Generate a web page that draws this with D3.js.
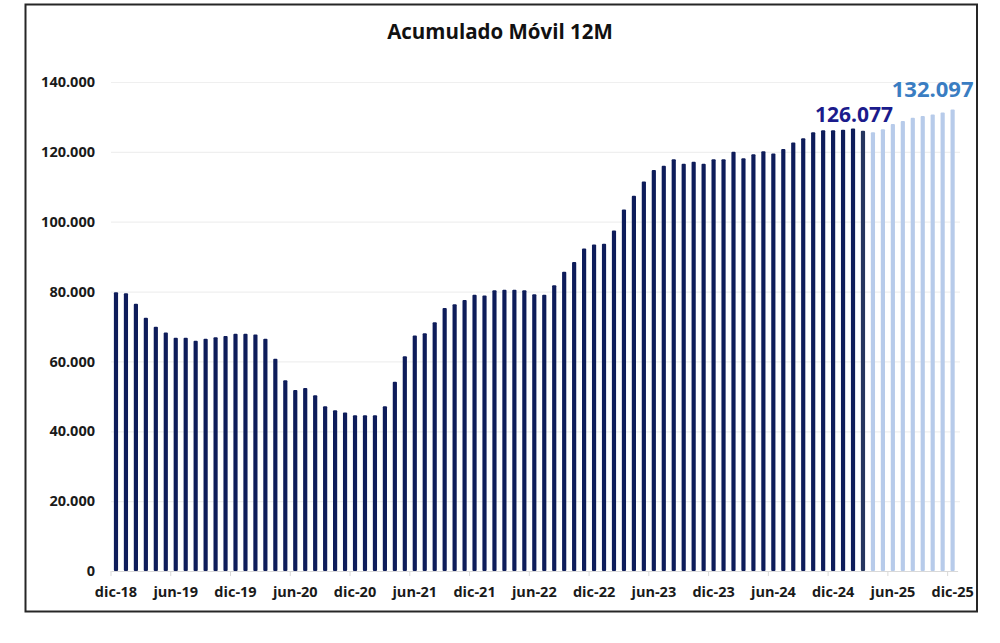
<!DOCTYPE html>
<html>
<head>
<meta charset="utf-8">
<script src="https://cdn.jsdelivr.net/npm/d3@7"></script>
<style>
  body { margin: 0; background: #fff; }
  svg { display: block; font-family: "Open Sans", sans-serif; }
</style>
</head>
<body>
<div class="chart"></div>
<script>
// meses dic-18 .. dic-25
var categorias = [
  'dic-18',
  'ene-19','feb-19','mar-19','abr-19','may-19','jun-19','jul-19','ago-19','sep-19','oct-19','nov-19','dic-19',
  'ene-20','feb-20','mar-20','abr-20','may-20','jun-20','jul-20','ago-20','sep-20','oct-20','nov-20','dic-20',
  'ene-21','feb-21','mar-21','abr-21','may-21','jun-21','jul-21','ago-21','sep-21','oct-21','nov-21','dic-21',
  'ene-22','feb-22','mar-22','abr-22','may-22','jun-22','jul-22','ago-22','sep-22','oct-22','nov-22','dic-22',
  'ene-23','feb-23','mar-23','abr-23','may-23','jun-23','jul-23','ago-23','sep-23','oct-23','nov-23','dic-23',
  'ene-24','feb-24','mar-24','abr-24','may-24','jun-24','jul-24','ago-24','sep-24','oct-24','nov-24','dic-24',
  'ene-25','feb-25','mar-25','abr-25','may-25','jun-25','jul-25','ago-25','sep-25','oct-25','nov-25','dic-25'
];

// real, dic-18 .. mar-25
var reales = [
  79800, 79500, 76500, 72500, 69900, 68300, 66800, 66800, 65900, 66500, 66900, 67300,
  67900, 67900, 67700, 66500, 60800, 54600, 51800, 52400, 50300, 47200, 46000, 45400,
  44600, 44600, 44600, 47200, 54200, 61500, 67400, 68100, 71200, 75300, 76400, 77600,
  79100, 78900, 80400, 80500, 80500, 80400, 79200, 79100, 81800, 85700, 88500, 92300,
  93500, 93700, 97500, 103500, 107400, 111500, 114800, 116000, 117900, 116600, 117200, 116600,
  117900, 117900, 120000, 118200, 119300, 120200, 119500, 120800, 122700, 123900, 125600, 126200,
  126200, 126300, 126700, 126077
];

// proyeccion, abr-25 .. dic-25
var proyeccion = [125600, 126500, 128000, 128800, 129800, 130300, 130700, 131300, 132097];

var yTicks = [0, 20000, 40000, 60000, 80000, 100000, 120000, 140000];
var xTickLabels = ['dic-18','jun-19','dic-19','jun-20','dic-20','jun-21','dic-21','jun-22',
  'dic-22','jun-23','dic-23','jun-24','dic-24','jun-25','dic-25'];

var titulo = 'Acumulado Móvil 12M';

var width = 1000, height = 643;

var datos = categorias.map(function (c, i) {
  var real = i < reales.length;
  return { mes: c, valor: real ? reales[i] : proyeccion[i - reales.length], real: real };
});

var es = d3.formatLocale({ decimal: ',', thousands: '.', grouping: [3], currency: ['', ''] });
var fmt = es.format(',');

var svg = d3.select('.chart')
  .append('svg')
    .attr('width', width)
    .attr('height', height);

// marco
svg.append('rect')
  .attr('x', 25.5)
  .attr('y', 4.5)
  .attr('width', 951.5)
  .attr('height', 607)
  .style('fill', '#fff')
  .style('stroke', '#262626')
  .style('stroke-width', 2);

svg.append('text')
  .attr('x', 500)
  .attr('y', 38.5)
  .attr('text-anchor', 'middle')
  .style('font-size', '20.5px')
  .style('font-weight', 700)
  .style('fill', '#111')
  .text(titulo);

var x = d3.scaleBand()
  .domain(categorias)
  .range([111, 957.6])
  .paddingInner(0.58)
  .paddingOuter(0.29);

var y = d3.scaleLinear()
  .domain([0, 140000])
  .range([571, 82]);

// lineas de grilla
svg.append('g')
  .selectAll('line')
  .data(yTicks.slice(1))
  .enter().append('line')
    .attr('x1', 111)
    .attr('x2', 960)
    .attr('y1', function (d) { return y(d) + 0.5; })
    .attr('y2', function (d) { return y(d) + 0.5; })
    .style('stroke', '#efefef')
    .style('stroke-width', 1.2);

var yAxis = d3.axisLeft(y)
  .tickValues(yTicks)
  .tickSize(0)
  .tickPadding(16)
  .tickFormat(fmt);

svg.append('g')
  .attr('transform', 'translate(111, 0)')
  .call(yAxis)
  .call(function (g) { g.select('.domain').remove(); })
  .selectAll('text')
    .style('font-family', '"Open Sans", sans-serif')
    .style('font-size', '14.5px')
    .style('font-weight', 700)
    .style('fill', '#1a1a1a');

// barras
svg.append('g')
  .selectAll('rect')
  .data(datos)
  .enter().append('rect')
    .attr('x', function (d) { return x(d.mes); })
    .attr('y', function (d) { return y(d.valor); })
    .attr('width', x.bandwidth())
    .attr('height', function (d) { return y(0) - y(d.valor); })
    .attr('rx', 1)
    .style('fill', function (d, i) {
      if (!d.real) return '#b7cbea';
      return i === reales.length - 1 ? '#25355f' : '#0e1c5a';
    });

// eje x
var step = x.step();
var xAxis = d3.axisBottom(x)
  .tickValues(xTickLabels)
  .tickSize(0)
  .tickPadding(16);

var gx = svg.append('g')
  .attr('transform', 'translate(0, 571)')
  .call(xAxis);
gx.select('.domain')
  .style('stroke', '#d9d9d9');
gx.selectAll('text')
  .style('font-family', '"Open Sans", sans-serif')
  .style('font-size', '14.5px')
  .style('font-weight', 700)
  .style('fill', '#1a1a1a');

gx.append('g')
  .selectAll('line')
  .data(xTickLabels)
  .enter().append('line')
    .attr('x1', function (d) { return x(d) - step * 0.29; })
    .attr('x2', function (d) { return x(d) - step * 0.29; })
    .attr('y1', 0)
    .attr('y2', 5)
    .style('stroke', '#d9d9d9');

// etiquetas de valor
var ultimoReal = datos[reales.length - 1];
var ultimo = datos[datos.length - 1];

svg.append('text')
  .attr('x', x(ultimoReal.mes) + x.bandwidth() / 2 - 9)
  .attr('y', y(ultimoReal.valor) - 9)
  .attr('text-anchor', 'middle')
  .style('font-size', '21px')
  .style('font-weight', 700)
  .style('fill', '#1b1b8c')
  .text(fmt(ultimoReal.valor));

svg.append('text')
  .attr('x', x(ultimo.mes) + x.bandwidth() / 2 - 20)
  .attr('y', y(ultimo.valor) - 13)
  .attr('text-anchor', 'middle')
  .style('font-size', '22px')
  .style('font-weight', 700)
  .style('fill', '#3a7dc2')
  .text(fmt(ultimo.valor));
</script>
</body>
</html>
